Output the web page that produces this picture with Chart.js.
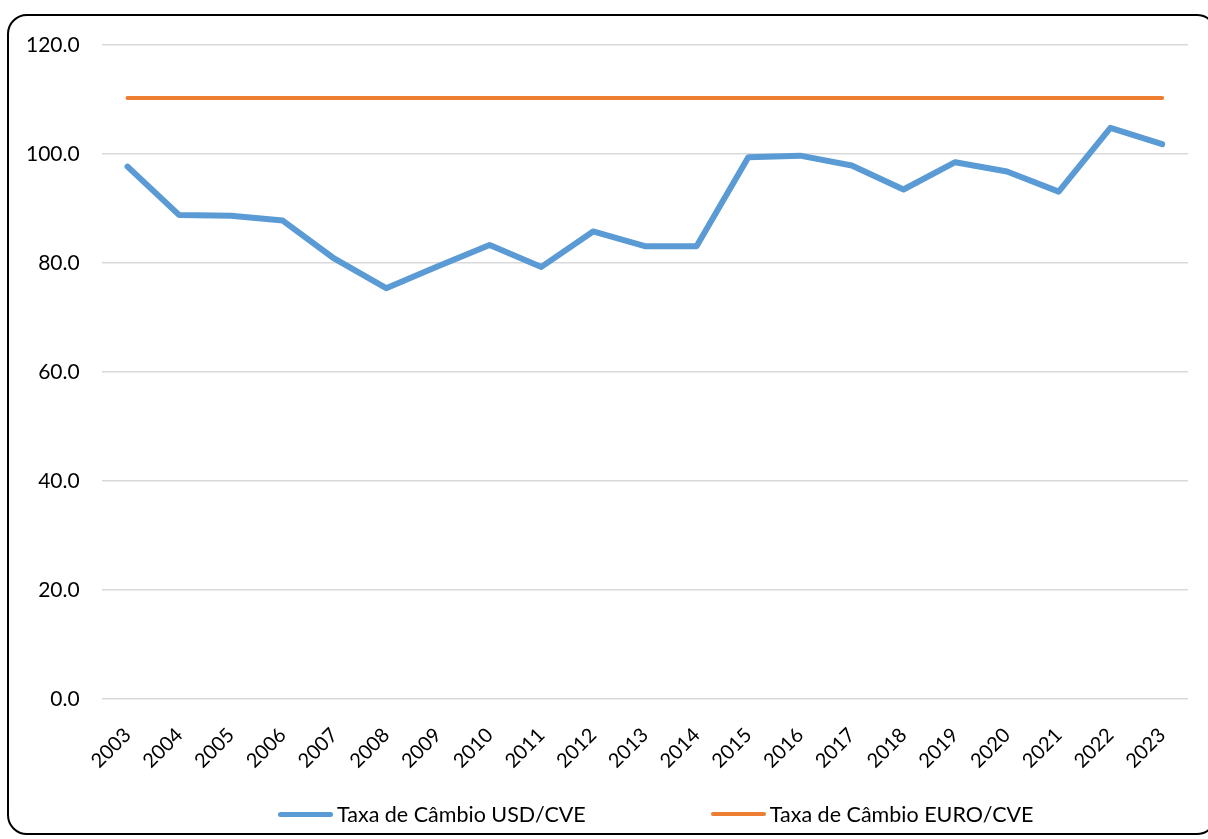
<!DOCTYPE html>
<html>
<head>
<meta charset="utf-8">
<script src="https://cdn.jsdelivr.net/npm/chart.js@4"></script>
<style>
  html, body { margin: 0; padding: 0; background: #fff; }
  body { width: 1208px; height: 839px; position: relative; overflow: hidden; font-family: Lato, sans-serif; }
  #frame {
    position: absolute; left: 7px; top: 14px; width: 1210px; height: 821px;
    border: 2px solid #000; border-radius: 20px; box-sizing: border-box;
  }
  #wrap { position: absolute; left: 0; top: 0; width: 1208px; height: 839px; }
  #legend {
    position: absolute; left: 278px; top: 800px; height: 28px;
    display: flex; align-items: center; gap: 125px; font-size: 21.5px; color: #000;
  }
  #legend .item { display: flex; align-items: center; white-space: nowrap; }
  #legend .swatch { width: 55px; border-radius: 3px; margin-right: 4px; }
</style>
</head>
<body>
<div id="frame"></div>
<div id="wrap"><canvas id="rateChart"></canvas></div>
<div id="legend"></div>
<script>
const years = ["2003", "2004", "2005", "2006", "2007", "2008", "2009", "2010", "2011", "2012", "2013",
  "2014", "2015", "2016", "2017", "2018", "2019", "2020", "2021", "2022", "2023"];
const usdCve = [97.7, 88.8, 88.7, 87.8, 80.8, 75.4, 79.4, 83.3, 79.3, 85.8, 83.1,
  83.1, 99.4, 99.7, 97.9, 93.5, 98.5, 96.8, 93.1, 104.8, 101.8];
const euroCve = [110.3, 110.3, 110.3, 110.3, 110.3, 110.3, 110.3, 110.3, 110.3, 110.3, 110.3,
  110.3, 110.3, 110.3, 110.3, 110.3, 110.3, 110.3, 110.3, 110.3, 110.3];
const yTicks = [0, 20, 40, 60, 80, 100, 120];

const fontFamily = "Lato";

const ctx = document.getElementById("rateChart").getContext("2d");
const rateChart = new Chart(ctx, {
  type: "line",
  data: {
    labels: years,
    datasets: [
      {
        label: "Taxa de Câmbio USD/CVE",
        data: usdCve,
        borderColor: "#5b9bd5",
        backgroundColor: "#5b9bd5",
        borderWidth: 6,
        borderCapStyle: "round",
        borderJoinStyle: "round",
        pointRadius: 0,
        tension: 0,
      },
      {
        label: "Taxa de Câmbio EURO/CVE",
        data: euroCve,
        borderColor: "#ed7d31",
        backgroundColor: "#ed7d31",
        borderWidth: 4,
        borderCapStyle: "round",
        pointRadius: 0,
        tension: 0,
      },
    ],
  },
  options: {
    responsive: true,
    maintainAspectRatio: false,
    animation: false,
    layout: {
      padding: { left: 4, right: 20, top: 45, bottom: 50 },
    },
    plugins: {
      legend: { display: false },
      tooltip: { enabled: false },
    },
    scales: {
      y: {
        min: 0,
        max: 120,
        afterBuildTicks: (axis) => {
          axis.ticks = yTicks.map((v) => ({ value: v }));
        },
        ticks: {
          color: "#000",
          padding: 22,
          font: { family: fontFamily, size: 21 },
          callback: (v) => Number(v).toFixed(1),
        },
        grid: { color: "#d9d9d9", lineWidth: 1.5, drawTicks: false },
        border: { display: false },
      },
      x: {
        offset: true,
        ticks: {
          color: "#000",
          minRotation: 45,
          maxRotation: 45,
          padding: 16,
          font: { family: fontFamily, size: 20 },
        },
        grid: { display: false },
        border: { display: false },
      },
    },
  },
});

// HTML legend built from the datasets
const legendEl = document.getElementById("legend");
rateChart.data.datasets.forEach((ds) => {
  const item = document.createElement("div");
  item.className = "item";
  const swatch = document.createElement("span");
  swatch.className = "swatch";
  swatch.style.background = ds.borderColor;
  swatch.style.height = (ds.borderWidth === 6 ? 5 : 4) + "px";
  const text = document.createElement("span");
  text.textContent = ds.label;
  item.appendChild(swatch);
  item.appendChild(text);
  legendEl.appendChild(item);
});
</script>
</body>
</html>
